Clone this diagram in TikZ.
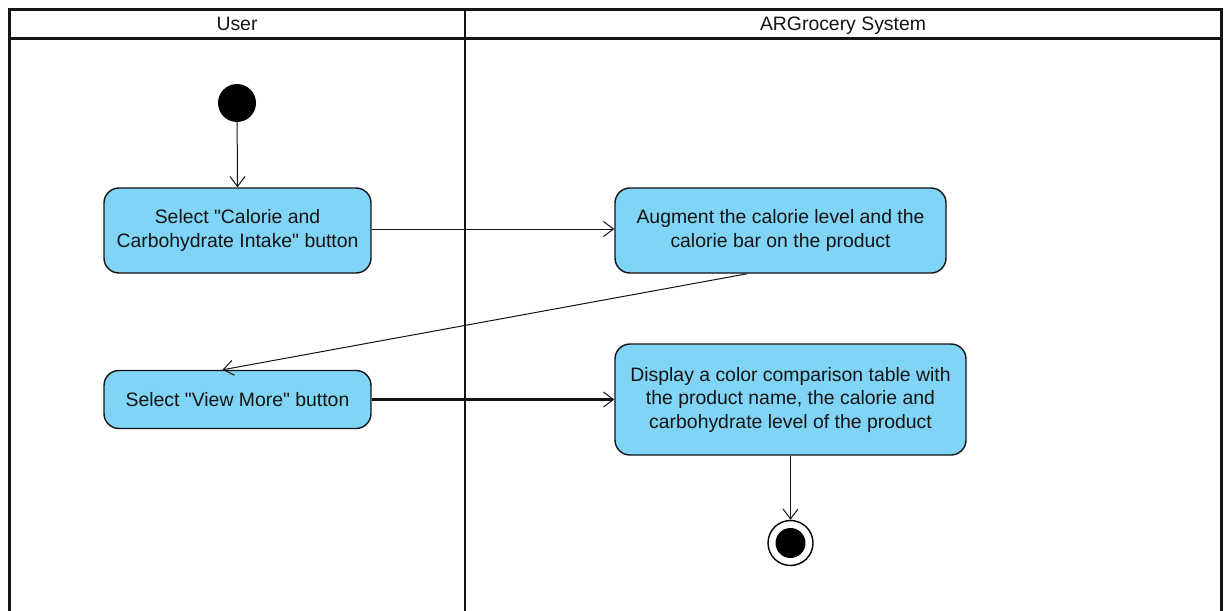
\documentclass[tikz,border=0pt]{standalone}
\usepackage{fontspec}
\setmainfont{Liberation Sans}[Ligatures=TeXOff]
\usetikzlibrary{arrows.meta}
\definecolor{actfill}{RGB}{128,212,246}
\definecolor{ink}{RGB}{20,20,20}
\newcommand{\sq}{\symbol{34}}
\tikzset{
  action/.style={draw=ink, line width=1.4pt, fill=actfill, rounded corners=15pt,
    align=center, font=\fontsize{19.4}{23.5}\selectfont, text=ink, inner sep=0pt},
  flow/.style={draw=ink, line width=1pt, -{Straight Barb[length=10pt,width=15pt,line width=1pt]}},
  lane/.style={draw=ink, line width=2.8pt},
  lanetitle/.style={font=\fontsize{19.4}{22}\selectfont, text=ink, anchor=base}
}
\begin{document}
\begin{tikzpicture}[x=1pt,y=-1pt]
\useasboundingbox (0,0) rectangle (1225,610);
\fill[white] (0,0) rectangle (1225,610);

% swimlane frame
\draw[lane] (9.5,625) -- (9.5,9.5) -- (1221.5,9.5) -- (1221.5,625);
\draw[lane] (9.5,38.5) -- (1221.5,38.5);
\draw[lane] (465,9.5) -- (465,625);
\node[lanetitle] (laneuser) at (237,31) {User};
\node[lanetitle] (lanesys) at (843,31) {ARGrocery System};

% initial and final states
\node[circle, fill=black, minimum size=38pt, inner sep=0pt] (start) at (237,103) {};
\node[circle, draw=black, line width=1.4pt, fill=white, minimum size=45pt, inner sep=0pt] (end) at (790.5,543) {};
\node[circle, fill=black, minimum size=30pt, inner sep=0pt] (endcore) at (790.5,543) {};

% actions
\node[action, minimum width=267pt, minimum height=85pt] (selcal) at (237.5,230.5)
  {Select \sq Calorie and\\Carbohydrate Intake\sq{} button};
\node[action, minimum width=331pt, minimum height=85pt] (augment) at (780.5,230.5)
  {Augment the calorie level and the\\calorie bar on the product};
\node[action, minimum width=267pt, minimum height=58pt] (viewmore) at (237.5,399.5)
  {Select \sq View More\sq{} button};
\node[action, minimum width=351pt, minimum height=111pt] (display) at (790.5,399.5)
  {Display a color comparison table with\\the product name, the calorie and\\carbohydrate level of the product};

% control flows
\draw[flow] (start) -- (selcal.north);
\draw[flow] ([yshift=1.5pt]selcal.east) -- ([yshift=1.5pt]augment.west);
\draw[flow] ([xshift=-33pt]augment.south) -- ([xshift=-15pt]viewmore.north);
\draw[flow, line width=2.2pt] (viewmore.east) -- (display.west);
\draw[flow] (display.south) -- (end.north);
\end{tikzpicture}
\end{document}
